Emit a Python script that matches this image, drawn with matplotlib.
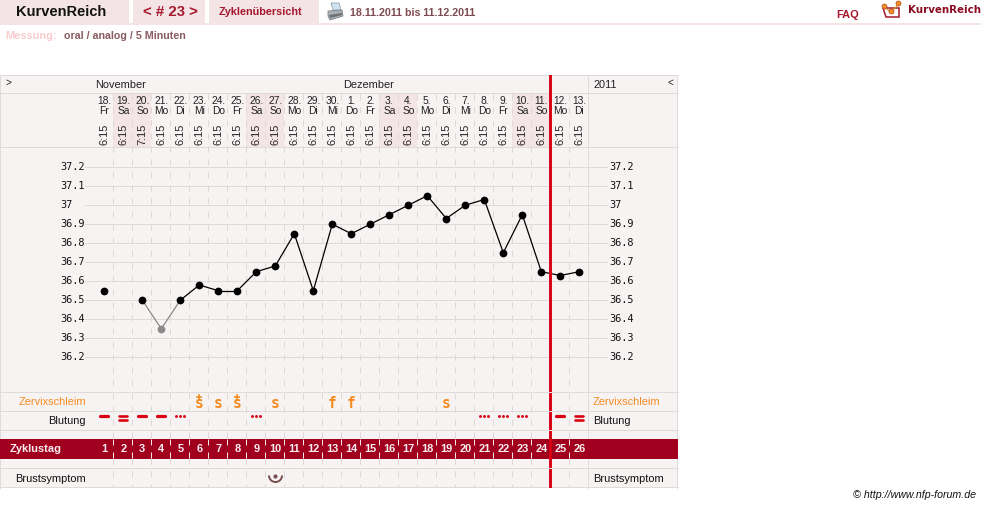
import numpy as np
import matplotlib
matplotlib.use("Agg")
import matplotlib.pyplot as plt
from matplotlib.patches import Rectangle, Polygon
from matplotlib.path import Path

# ---- cycle data ----
cycle_days = list(range(1, 27))
dates = ["18.", "19.", "20.", "21.", "22.", "23.", "24.", "25.", "26.", "27.", "28.", "29.", "30.",
         "1.", "2.", "3.", "4.", "5.", "6.", "7.", "8.", "9.", "10.", "11.", "12.", "13."]
weekdays = ["Fr", "Sa", "So", "Mo", "Di", "Mi", "Do", "Fr", "Sa", "So", "Mo", "Di", "Mi",
            "Do", "Fr", "Sa", "So", "Mo", "Di", "Mi", "Do", "Fr", "Sa", "So", "Mo", "Di"]
times = ["6:15", "6:15", "7:15"] + ["6:15"] * 23
temperatures = [36.55, None, 36.50, 36.35, 36.50, 36.58, 36.55, 36.55, 36.65, 36.68, 36.85, 36.55, 36.90,
                36.85, 36.90, 36.95, 37.00, 37.05, 36.93, 37.00, 37.03, 36.75, 36.95, 36.65, 36.63, 36.65]
excluded_days = [4]
temp_ticks = [36.2, 36.3, 36.4, 36.5, 36.6, 36.7, 36.8, 36.9, 37, 37.1, 37.2]
temp_labels = ["36.2", "36.3", "36.4", "36.5", "36.6", "36.7", "36.8", "36.9", "37", "37.1", "37.2"]
mucus = {6: "s+", 7: "s", 8: "s+", 10: "s", 13: "f", 14: "f", 19: "s"}
bleeding_single = [1, 3, 4, 25]
bleeding_double = [2, 26]
bleeding_spotting = [5, 9, 21, 22, 23]
breast_symptom_days = [10]
cycle_end = 24.5

W, H = 981, 507
COL0, COLW = 94.8, 19
EDGE_NUDGE = 0.03   # keeps one-pixel rules on the pixel left of a column edge
ROW_LINES = [75.1, 93.1, 147.1, 392.1, 411.1, 430.1, 468.1, 487.1]
PAGE_PINK = "#f5e4e6"
PANEL = "#f8f3f3"
RULE = "#dfdbdb"
RULE_W = 0.72
DARKRED = "#a0001e"
TITLE_RED = "#a5182e"
ORANGE = "#f58a1e"
SANS = ["Liberation Sans", "DejaVu Sans"]
MONO = ["DejaVu Sans Mono"]


def px(size):
    return size * 0.72


def to_day(x):
    return (x - COL0) / COLW + 0.5


def axes_at(left, top, right, bottom, **kw):
    return fig.add_axes([left / W, 1 - bottom / H, (right - left) / W, (bottom - top) / H], **kw)


fig = plt.figure(figsize=(W / 100, H / 100), dpi=100, facecolor="white")

# ---- page furniture, in pixel units ----
page = axes_at(0, 0, W, H, zorder=0)
page.set_xlim(0, W)
page.set_ylim(H, 0)
page.axis("off")

for x0, x1 in [(0, 129), (133, 205), (209, 319)]:
    page.add_patch(Rectangle((x0, 0), x1 - x0, 23, fc=PAGE_PINK, ec="none"))
page.add_patch(Rectangle((0, 23), W, 2, fc=PAGE_PINK, ec="none"))

page.text(16, 12.5, "KurvenReich", family=SANS, fontsize=px(14.6), weight="bold", color="#111111", va="center")
page.text(143, 12.5, "< # 23 >", family=SANS, fontsize=px(15), weight="bold", color=TITLE_RED, va="center")
page.text(219, 12, "Zyklenübersicht", family=SANS, fontsize=px(10.9), weight="bold", color=TITLE_RED, va="center")
page.text(350, 12.5, "18.11.2011 bis 11.12.2011", family=SANS, fontsize=px(10.6), weight="bold",
          color="#7d4b52", va="center")
page.text(836, 14.5, "FAQ", family=SANS, fontsize=px(11), weight="bold", color=TITLE_RED, va="center")
page.text(908, 10, "KurvenReich", family=["DejaVu Sans"], fontsize=px(10.2), weight="bold",
          color="#8c0c22", va="center")
page.text(5, 36, "Messung:", family=SANS, fontsize=px(11), weight="bold", color="#f8cbcd", va="center")
page.text(64, 36, "oral / analog / 5 Minuten", family=SANS, fontsize=px(10.6), weight="bold",
          color="#8a5c62", va="center")
page.text(853, 495, "© http://www.nfp-forum.de", family=SANS, fontsize=px(10.6), style="italic",
          color="#111111", va="center")

# printer icon
page.add_patch(Polygon([(331, 3), (339, 3), (341, 10), (333, 10)], fc="#cfe3f0", ec="#8fa3b0", lw=0.6))
page.add_patch(Polygon([(328, 11), (342, 10), (343, 16), (330, 20), (328, 16)], fc="#a9afb3", ec="#7f8588", lw=0.6))
page.add_patch(Polygon([(329, 15), (342, 13), (342, 15), (330, 18)], fc="#6c7275", ec="none"))

# logo: envelope with a small curve across it
page.add_patch(Polygon([(883, 8), (899, 8), (899, 17), (886, 17)], fc="white", ec="#a5182e", lw=1.1))
page.plot([884, 891, 898], [7, 12, 5], color="#d9a020", lw=0.9)
page.plot([884, 891, 898], [6, 11, 2.5], ls="none", marker="o", ms=3.6, mfc="#f0901e", mec="#b8402a", mew=0.5)

# table background and outer frame
page.add_patch(Rectangle((0, 75), 678, 413, fc=PANEL, ec="none"))
for x in (0.1, 588.1, 677.1):
    page.plot([x, x], [75, 488], color=RULE, lw=RULE_W)
for y in ROW_LINES:
    page.plot([0, 678], [y, y], color=RULE, lw=RULE_W, zorder=1)

page.text(5, 83, ">", family=SANS, fontsize=px(10), color="#222222", va="center")
page.text(668, 83, "<", family=SANS, fontsize=px(10), color="#222222", va="center")
page.text(95.5, 85.5, "November", family=SANS, fontsize=px(11), color="#222222", va="center")
page.text(343, 85.5, "Dezember", family=SANS, fontsize=px(11), color="#222222", va="center")
page.text(593, 85.5, "2011", family=SANS, fontsize=px(11), color="#222222", va="center")

page.add_patch(Rectangle((0, 439), 678, 19.5, fc=DARKRED, ec="none", zorder=3))
page.text(10, 449.5, "Zyklustag", family=SANS, fontsize=px(11), weight="bold", color="#f8eeee", va="center", zorder=4)

for y, label, colour in [(402, "Zervixschleim", ORANGE), (421, "Blutung", "#111111"), (478.5, "Brustsymptom", "#111111")]:
    page.text(86, y, label, family=SANS, fontsize=px(11), color=colour, va="center", ha="right")
    page.text(593, y, label, family=SANS, fontsize=px(11), color=colour, va="center", ha="left")

# ---- day columns: x in cycle days, y in pixels ----
rows = axes_at(COL0, 75, COL0 + 26 * COLW, 488, zorder=1)
rows.set_xlim(0.5, 26.5)
rows.set_ylim(488, 75)
rows.axis("off")
rows.patch.set_alpha(0)

for day, wd in zip(cycle_days, weekdays):
    if wd in ("Sa", "So"):
        rows.add_patch(Rectangle((day - 0.5 - EDGE_NUDGE, 94), 1, 53, fc="#f3e4e6", ec="none", zorder=0))

for edge in np.arange(0.5, 26.5):
    for y0, y1, colour in [(94, 439, "#dcd8d8"), (439, 458, "#f3e6e6"), (458, 488, "#dcd8d8")]:
        rows.plot([edge - EDGE_NUDGE] * 2, [y0, y1], color=colour, lw=RULE_W, dashes=(6, 7), zorder=1,
                  dash_capstyle="butt")

for day, date, wd, tm in zip(cycle_days, dates, weekdays, times):
    rows.text(day, 101, date, family=SANS, fontsize=px(10.2), color="#222222", ha="center", va="center")
    rows.text(day, 111, wd, family=SANS, fontsize=px(10.2), color="#222222", ha="center", va="center")
    rows.text(day + 0.03, 134.5, tm, family=SANS, fontsize=px(11), color="#222222", ha="center", va="center",
              rotation=90)
    rows.text(day, 449.5, str(day), family=SANS, fontsize=px(11), weight="bold", color="#f8eeee",
              ha="center", va="center", zorder=3)

# cervical mucus codes; a plus sign sits above the letter
for day, code in mucus.items():
    rows.text(day, 404, code[0], family=MONO, fontsize=px(14.5), weight="bold", color=ORANGE,
              ha="center", va="center")
    if code.endswith("+"):
        rows.plot([day], [397], ls="none", marker="+", ms=4.2, mew=1.1, color=ORANGE, zorder=3)

# bleeding strength
for day in bleeding_single:
    rows.plot([day - 0.22, day + 0.22], [416, 416], color="#d80012", lw=2.3, solid_capstyle="round", zorder=3)
for day in bleeding_double:
    rows.plot([day - 0.22, day + 0.22], [416, 416], color="#d80012", lw=1.9, solid_capstyle="round", zorder=3)
    rows.plot([day - 0.22, day + 0.22], [420.5, 420.5], color="#d80012", lw=1.9, solid_capstyle="round", zorder=3)
for day in bleeding_spotting:
    rows.plot([day - 0.22, day, day + 0.22], [416.5] * 3, ls="none", marker="o", ms=2.1,
              mfc="#d80012", mec="none", zorder=3)

# breast symptom glyph
half_circle = Path.arc(180, 360)
rows.plot(breast_symptom_days, [475.5], ls="none", marker=half_circle, ms=9.4, mfc="none", mec="#7a4f50",
          mew=1.4, zorder=3)
rows.plot(breast_symptom_days, [476], ls="none", marker="o", ms=3, mfc="#7a4f50", mec="none", zorder=3)

# ---- temperature chart ----
GRID_L, GRID_R = 85, 608
ax = axes_at(GRID_L, 148, GRID_R, 392, zorder=2)
ax.patch.set_alpha(0)
ax.set_xlim(to_day(GRID_L), to_day(GRID_R))
ax.set_ylim(36.2 - 34.8 / 190, 37.2 + 19.2 / 190)
for side in ax.spines.values():
    side.set_visible(False)
ax.set_xticks([])
ax.set_yticks(temp_ticks)
ax.tick_params(left=False, labelleft=False)
ax.grid(axis="y", color=RULE, lw=RULE_W)
ax.set_axisbelow(True)

for tick, label in zip(temp_ticks, temp_labels):
    for x in (60, 609):
        ax.text(to_day(x), tick, label, family=MONO, fontsize=px(10.3), color="#111111",
                ha="left", va="center", clip_on=False)

for d0, d1, t0, t1 in zip(cycle_days, cycle_days[1:], temperatures, temperatures[1:]):
    if t0 is None or t1 is None:
        continue
    grey = d0 in excluded_days or d1 in excluded_days
    ax.plot([d0, d1], [t0, t1], color="#8a8a8a" if grey else "#000000", lw=0.9, zorder=3)

for day, temp in zip(cycle_days, temperatures):
    if temp is None:
        continue
    ax.plot([day], [temp], ls="none", marker="o", ms=5.6, mec="none",
            mfc="#8a8a8a" if day in excluded_days else "#000000", zorder=4)

# end-of-cycle marker runs through the full table height
over = axes_at(COL0, 75, COL0 + 26 * COLW, 488, zorder=3)
over.patch.set_alpha(0)
over.axis("off")
over.set_xlim(0.5, 26.5)
over.set_ylim(488, 75)
over.axvline(cycle_end - EDGE_NUDGE, color="#d80012", lw=2.1)
for y in (ROW_LINES[3], ROW_LINES[4], ROW_LINES[5], ROW_LINES[6]):
    over.plot([cycle_end - 0.12, cycle_end + 0.06], [y, y], color="#f4dede", lw=RULE_W)

fig.savefig("out.png", dpi=100, facecolor="white")
